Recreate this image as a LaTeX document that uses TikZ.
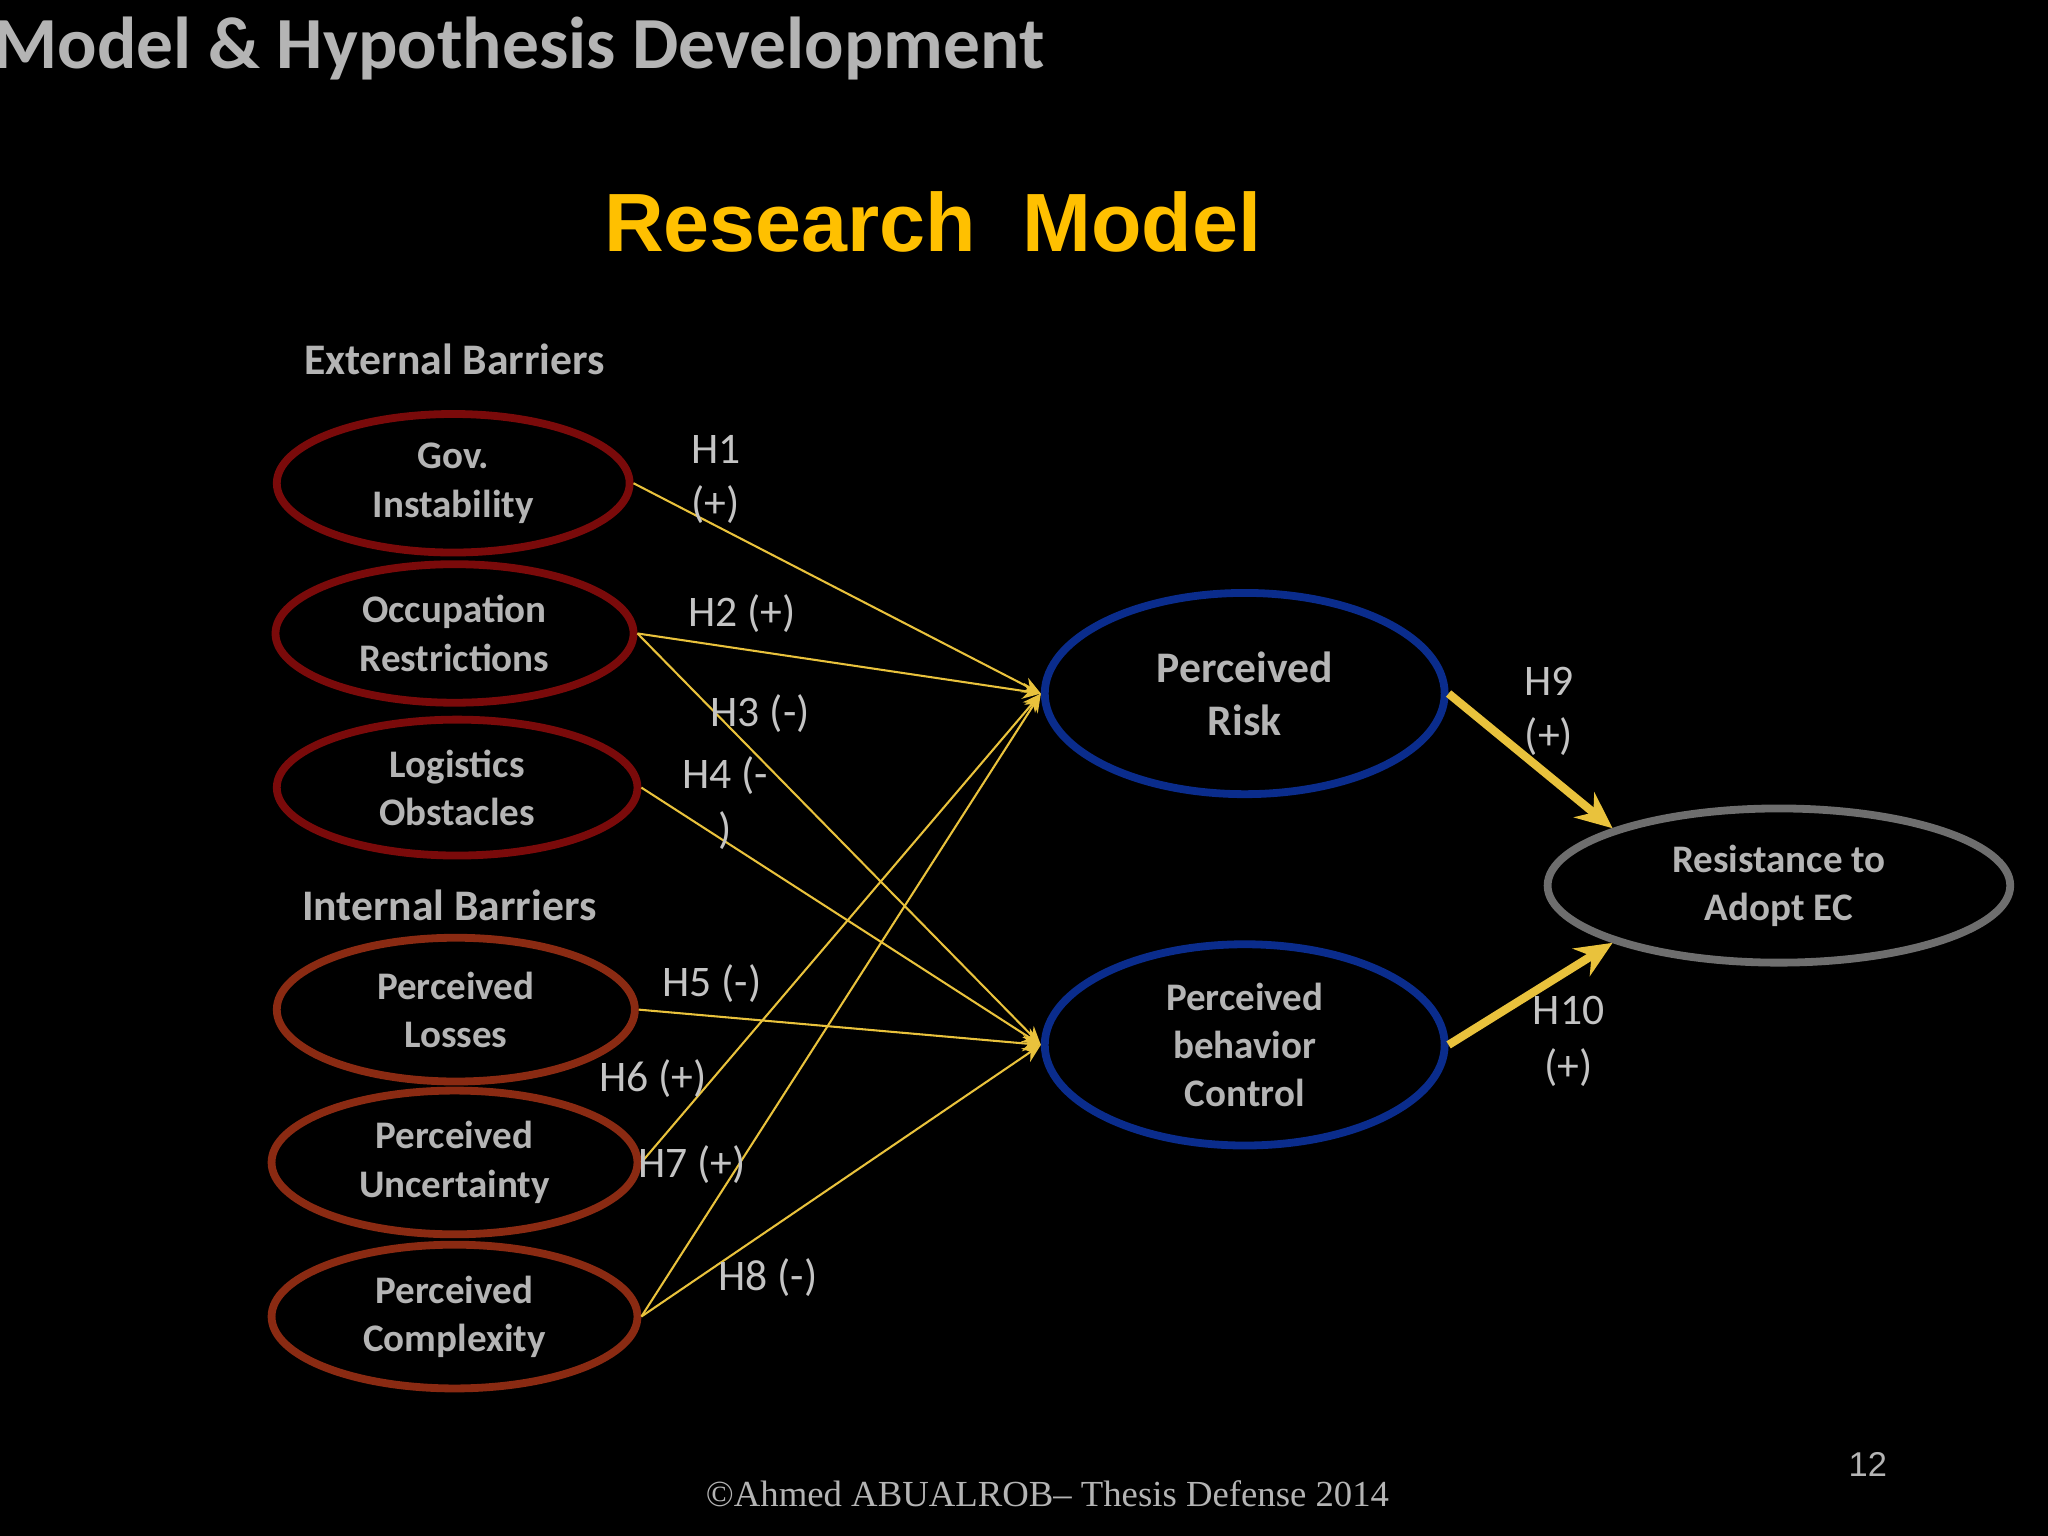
\documentclass[tikz,border=0pt]{standalone}
\usepackage{fontspec}
\setmainfont{Carlito}
\newfontfamily\arialf{Liberation Sans}
\newfontfamily\timesf{Liberation Serif}
\usetikzlibrary{shapes.geometric,arrows.meta}
\definecolor{dred}{HTML}{7A0A0A}
\definecolor{bred}{HTML}{8A2A12}
\definecolor{dblue}{HTML}{0A2C8C}
\definecolor{gr}{HTML}{6E6E6E}
\definecolor{yel}{HTML}{E9C23C}
\definecolor{ttl}{HTML}{FFC000}
\definecolor{lg}{HTML}{C4C4C4}
\definecolor{tg}{HTML}{B4B4B4}
\begin{document}
\begin{tikzpicture}[x=0.01cm,y=-0.01cm,
 ell/.style={ellipse,draw,line width=1.7pt,inner sep=0,align=center,font=\bfseries\fontsize{8.5}{10.5}\selectfont,text=tg},
 thin/.style={draw=yel,line width=0.45pt,-{Stealth[length=4pt,width=3.5pt]}},
 thick/.style={draw=yel,line width=1.8pt,-{Stealth[length=8pt,width=7pt]}},
 hl/.style={text=lg,font=\fontsize{9.5}{11}\selectfont}]
\fill[black] (0,0) rectangle (1568,1176);
\useasboundingbox (0,0) rectangle (1568,1176);
\node[anchor=east,text=tg,font=\bfseries\fontsize{16}{19}\selectfont] (hdr) at (812,37) {Research Model \& Hypothesis Development};
\node[text=ttl,font=\arialf\bfseries\fontsize{18}{21}\selectfont] (title) at (714,170) {Research\ \ Model};
\node[text=tg,font=\bfseries\fontsize{9.5}{11}\selectfont] (ext) at (348,275) {External Barriers};
\node[text=tg,font=\bfseries\fontsize{9.5}{11}\selectfont] (int) at (344,693) {Internal Barriers};
\node[ell,draw=dred,minimum width=2.70cm,minimum height=1.06cm] (gov) at (347,370) {Gov.\\Instability};
\node[ell,draw=dred,minimum width=2.74cm,minimum height=1.06cm] (occ) at (348,485) {Occupation\\Restrictions};
\node[ell,draw=dred,minimum width=2.76cm,minimum height=1.04cm] (log) at (350,603) {Logistics\\Obstacles};
\node[ell,draw=bred,minimum width=2.74cm,minimum height=1.10cm] (los) at (349,773) {Perceived\\Losses};
\node[ell,draw=bred,minimum width=2.80cm,minimum height=1.10cm] (unc) at (348,890) {Perceived\\Uncertainty};
\node[ell,draw=bred,minimum width=2.80cm,minimum height=1.10cm] (cpx) at (348,1008) {Perceived\\Complexity};
\node[ell,draw=dblue,minimum width=3.06cm,minimum height=1.54cm,font=\bfseries\fontsize{9.5}{11.5}\selectfont] (risk) at (953,531) {Perceived\\Risk};
\node[ell,draw=dblue,minimum width=3.06cm,minimum height=1.54cm] (pbc) at (953,800) {Perceived\\behavior\\Control};
\node[ell,draw=gr,minimum width=3.54cm,minimum height=1.18cm] (res) at (1362,678) {Resistance to\\Adopt EC};
\draw[thin] (gov.east) -- (risk.west);
\draw[thin] (occ.east) -- (risk.west);
\draw[thin] (occ.east) -- (pbc.west);
\draw[thin] (log.east) -- (pbc.west);
\draw[thin] (los.east) -- (pbc.west);
\draw[thin] (unc.east) -- (risk.west);
\draw[thin] (cpx.east) -- (risk.west);
\draw[thin] (cpx.east) -- (pbc.west);
\draw[thick] (risk.east) -- (res.north west);
\draw[thick] (pbc.east) -- (res.south west);
\node[hl] (h1) at (548,344) {H1};
\node[hl] (h1s) at (548,386) {(+)};
\node[hl] (h2) at (568,470) {H2 (+)};
\node[hl] (h3) at (582,546) {H3 (-)};
\node[hl] (h4) at (555,594) {H4 (-};
\node[hl] (h4s) at (555,636) {)};
\node[hl] (h5) at (545,753) {H5 (-)};
\node[hl] (h6) at (500,826) {H6 (+)};
\node[hl] (h7) at (530,892) {H7 (+)};
\node[hl] (h8) at (588,978) {H8 (-)};
\node[hl] (h9) at (1186,522) {H9};
\node[hl] (h9s) at (1186,564) {(+)};
\node[hl] (h10) at (1201,774) {H10};
\node[hl] (h10s) at (1201,817) {(+)};
\node[text=tg,font=\timesf\fontsize{8}{9}\selectfont] (ft) at (802,1144) {©Ahmed ABUALROB– Thesis Defense 2014};
\node[text=tg,font=\arialf\fontsize{7.5}{9}\selectfont] (pg) at (1430,1121) {12};
\end{tikzpicture}
\end{document}
